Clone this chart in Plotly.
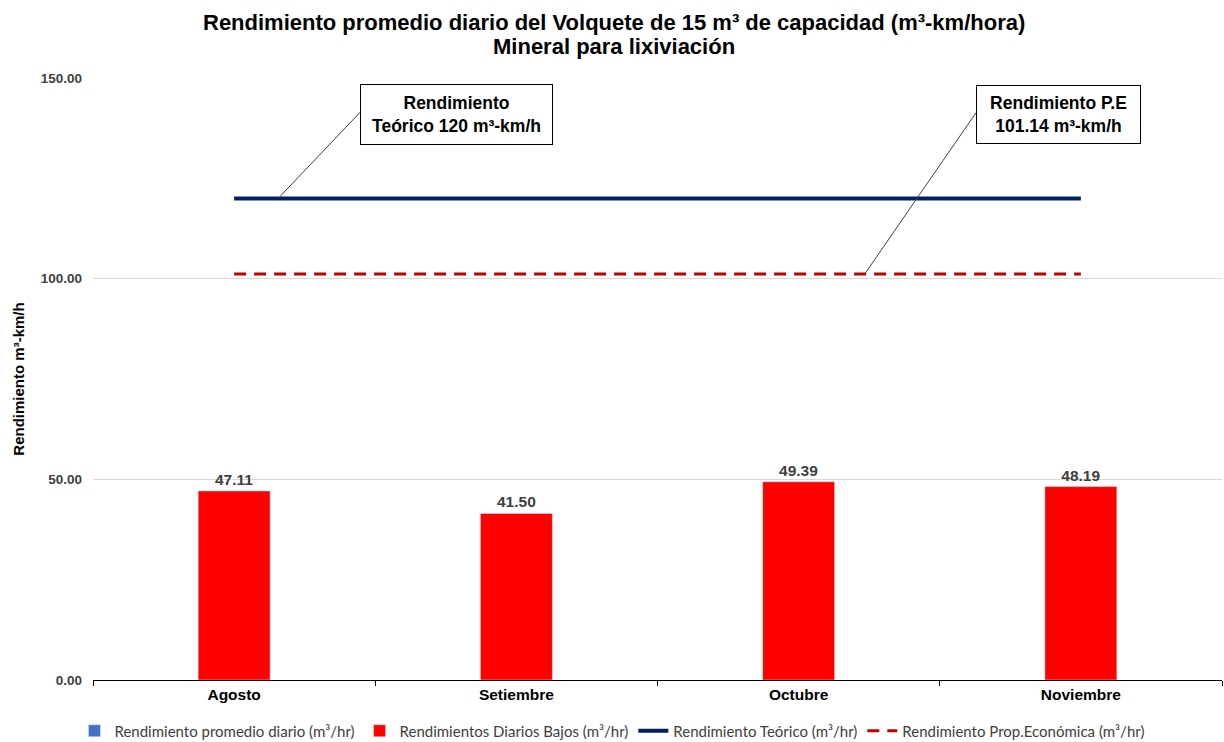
import plotly.graph_objects as go

meses = ["Agosto", "Setiembre", "Octubre", "Noviembre"]
rend_promedio = [None, None, None, None]
rend_bajos = [47.11, 41.50, 49.39, 48.19]
rend_teorico = [120, 120, 120, 120]
rend_pe = [101.14, 101.14, 101.14, 101.14]
y_ticks = [0, 50, 100, 150]

FONT = "Liberation Sans, Arial, sans-serif"
LEG_FONT = "Lato, Noto Sans, sans-serif"

fig = go.Figure()
fig.add_trace(go.Bar(x=meses, y=rend_promedio, name="Rendimiento promedio diario (m³/hr)",
                     marker_color="#4472C4", width=0.255))
fig.add_trace(go.Bar(x=meses, y=rend_bajos, name="Rendimientos Diarios Bajos (m³/hr)",
                     marker_color="#FF0000", width=0.255,
                     text=[f"{v:.2f}" for v in rend_bajos], textposition="outside",
                     textfont=dict(family=FONT, size=15.5, color="#404040", weight="bold"),
                     constraintext="none", cliponaxis=False))
fig.add_trace(go.Scatter(x=meses, y=rend_teorico, mode="lines", name="Rendimiento Teórico (m³/hr)",
                         line=dict(color="#002060", width=4)))
fig.add_trace(go.Scatter(x=meses, y=rend_pe, mode="lines", name="Rendimiento Prop.Económica (m³/hr)",
                         line=dict(color="#C00000", width=3, dash="12px,8px")))

fig.update_layout(
    width=1224, height=742,
    margin=dict(l=93, r=2, t=78, b=62, autoexpand=False),
    paper_bgcolor="white", plot_bgcolor="white",
    barmode="overlay",
    legend=dict(orientation="h", x=0.5, xanchor="center", xref="container",
                y=(742 - 731) / 742, yanchor="middle", yref="container",
                font=dict(family=LEG_FONT, size=15, color="#404040"),
                itemwidth=30, tracegroupgap=0),
    showlegend=True,
)

# title (two lines), centred on the whole figure
TX = (614 - 93) / 1129
fig.add_annotation(text="<b>Rendimiento promedio diario del Volquete de 15 m³ de capacidad (m³-km/hora)</b>",
                   xref="paper", yref="paper", x=TX, y=1 + (78 - 22) / 602,
                   xanchor="center", yanchor="middle", showarrow=False,
                   font=dict(family=FONT, size=22, color="#000000"))
fig.add_annotation(text="<b>Mineral para lixiviación</b>",
                   xref="paper", yref="paper", x=TX, y=1 + (78 - 46) / 602,
                   xanchor="center", yanchor="middle", showarrow=False,
                   font=dict(family=FONT, size=22, color="#000000"))

fig.update_yaxes(range=[0, 150], tickvals=y_ticks, tickformat=".2f",
                 tickfont=dict(family=FONT, size=13.5, color="#404040", weight="bold"),
                 showgrid=True, gridcolor="#D9D9D9", gridwidth=1, zeroline=False,
                 showline=False, ticks="", ticklabelstandoff=10,
                 title=dict(text="<b>Rendimiento m³-km/h</b>", font=dict(family=FONT, size=15, color="#000000"),
                            standoff=12))
fig.update_xaxes(showline=True, linecolor="#000000", linewidth=1, ticks="outside",
                 tickson="boundaries", ticklen=5, tickcolor="#000000",
                 tickfont=dict(family=FONT, size=15.5, color="#000000", weight="bold"),
                 showgrid=False)

# callout boxes
fig.add_annotation(x=0.789, y=140.9, xref="x", yref="y", showarrow=False,
                   text="<b>Rendimiento<br>Teórico 120 m³-km/h</b>",
                   font=dict(family=FONT, size=17.5, color="#000000"),
                   bordercolor="#000000", borderwidth=1, borderpad=3,
                   bgcolor="white", width=185, height=53, align="center")
fig.add_annotation(x=2.92, y=141.0, xref="x", yref="y", showarrow=False,
                   text="<b>Rendimiento P.E<br>101.14 m³-km/h</b>",
                   font=dict(family=FONT, size=17.5, color="#000000"),
                   bordercolor="#000000", borderwidth=1, borderpad=3,
                   bgcolor="white", width=157, height=51, align="center")
fig.add_shape(type="line", xref="x", yref="y", x0=0.156, y0=120, x1=0.447, y1=141.5,
              line=dict(color="#404040", width=1))
fig.add_shape(type="line", xref="x", yref="y", x0=2.234, y0=101.14, x1=2.628, y1=141.3,
              line=dict(color="#404040", width=1))

fig.write_html("out.html")
